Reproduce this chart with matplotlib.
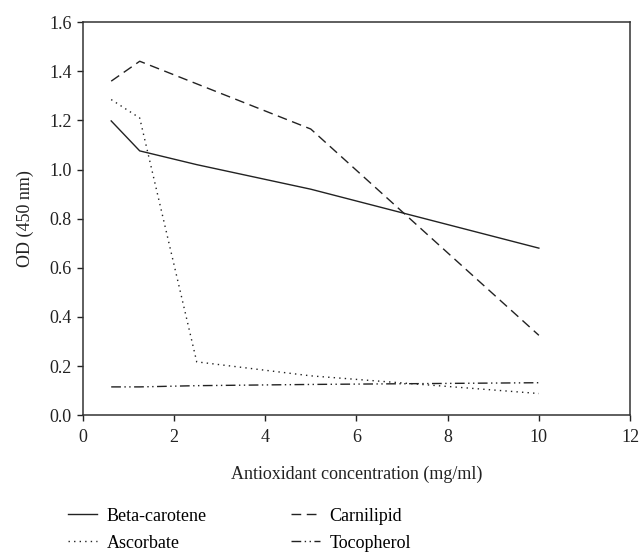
import matplotlib.pyplot as plt

plt.rcParams['font.family'] = ['Liberation Serif', 'DejaVu Serif']

# concentraciones (mg/ml)
conc = [0.625, 1.25, 2.5, 5, 10]
conc_carni = [0.625, 1.25, 5, 10]

beta_caroteno = [1.198, 1.076, 1.02, 0.92, 0.68]
carnilipid = [1.36, 1.441, 1.165, 0.325]
ascorbato = [1.285, 1.21, 0.217, 0.16, 0.088]
tocoferol = [0.115, 0.115, 0.12, 0.125, 0.132]

fig = plt.figure(figsize=(6.41, 5.55), dpi=100)
ax = fig.add_axes([0.129, 0.252, 0.854, 0.708])

lw = 1.0
col = '#222222'
ax.plot(conc, beta_caroteno, color=col, lw=lw, ls='-', label='Beta-carotene')
ax.plot(conc, ascorbato, color=col, lw=lw, ls=(0, (1, 3)), label='Ascorbate')
ax.plot(conc_carni, carnilipid, color=col, lw=lw, ls=(0, (7, 4)), label='Carnilipid')
ax.plot(conc, tocoferol, color=col, lw=lw, ls=(0, (7, 2.5, 1, 2.5, 1, 2.5)), label='Tocopherol')

ax.set_xlim(0, 12)
ax.set_ylim(0, 1.6)
ax.set_xticks([0, 2, 4, 6, 8, 10, 12])
ax.set_yticks([0.0, 0.2, 0.4, 0.6, 0.8, 1.0, 1.2, 1.4, 1.6])
ax.set_yticklabels(['0.0', '0.2', '0.4', '0.6', '0.8', '1.0', '1.2', '1.4', '1.6'])
ax.tick_params(direction='out', length=4, width=1, labelsize=13, colors=col)
ax.tick_params(axis='x', pad=6)
ax.tick_params(axis='y', pad=4)
for s in ax.spines.values():
    s.set_linewidth(1.1)
    s.set_color('#333333')

ax.set_xlabel('Antioxidant concentration (mg/ml)', fontsize=13, labelpad=14, color=col)
ax.set_ylabel('OD (450 nm)', fontsize=13, labelpad=11, color=col)

handles, labels = ax.get_legend_handles_labels()
fig.legend(handles, labels, ncol=2, frameon=False, fontsize=13,
           loc='lower left', bbox_to_anchor=(0.106, 0.006), borderpad=0, borderaxespad=0,
           handlelength=1.6, columnspacing=4.65, labelspacing=0.55, handletextpad=0.55)

plt.savefig('out.png', dpi=100)
plt.close()
